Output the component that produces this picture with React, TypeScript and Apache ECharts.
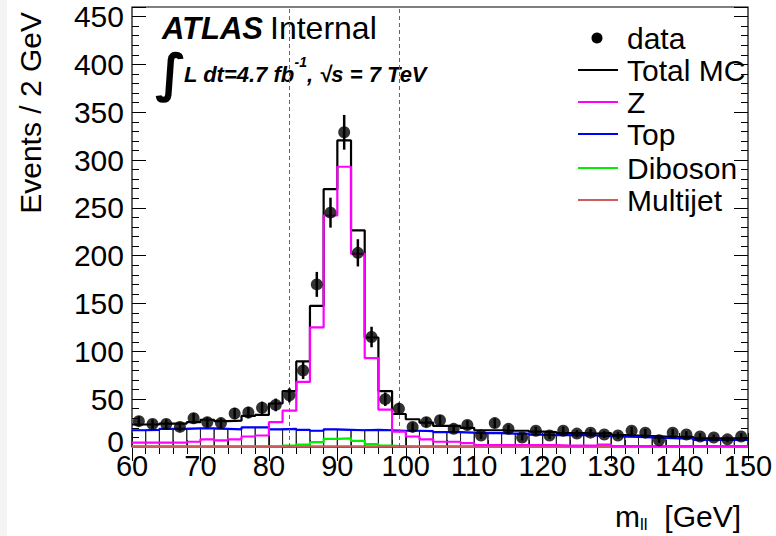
import React, { useEffect, useRef } from "react";
import * as echarts from "echarts";

// Bin centres of the 2 GeV bins, 60-150 GeV
const binCenters = [
  61, 63, 65, 67, 69, 71, 73, 75, 77, 79, 81, 83, 85, 87, 89, 91, 93, 95, 97, 99,
  101, 103, 105, 107, 109, 111, 113, 115, 117, 119, 121, 123, 125, 127, 129, 131,
  133, 135, 137, 139, 141, 143, 145, 147, 149,
];
const binHalfWidth = 1;

const dataCounts = [
  27, 24, 24, 21, 30, 26, 25, 35, 36, 41, 44, 54, 80, 170, 245, 329, 203, 115, 50, 40,
  21, 26, 28, 19, 23, 12, 25, 19, 10, 17, 12, 17, 14, 15, 13, 12, 17, 15, 7, 15,
  13, 11, 10, 8, 11,
];

const totalMC = [
  23.5, 23.5, 24.5, 24.5, 26, 28.5, 27, 27.5, 32.5, 33.5, 45.5, 58.5, 89.5, 147.5, 269.5,
  320.5, 226.5, 114.5, 58.5, 34.5, 29, 25.5, 22, 22, 20, 17.5, 17.5, 17, 17, 16, 15.5,
  14.5, 14.5, 14, 14.5, 12.5, 12, 11.5, 11, 10.5, 10.5, 9, 9, 9, 9,
];

const zMC = [
  4.5, 4.5, 4.5, 4.5, 5.5, 8, 7, 8, 11, 12, 26, 38, 68, 125, 242, 293, 202, 93, 39, 16,
  11, 8, 5.5, 5.5, 4, 2, 2, 2, 2, 2, 2, 1.5, 1.5, 1.5, 2.5, 1, 1, 1, 1, 1, 1, 1, 1, 1, 1,
];

const topMC = [
  17.5, 18, 19, 19, 19.5, 19.5, 19, 18.5, 20.5, 20.5, 18.5, 19, 18, 17, 18.5, 18, 17.5,
  18, 17.5, 17, 17, 16.5, 15.5, 15.5, 15, 14.5, 14.5, 14, 14, 13, 12.5, 12.5, 12.5, 12,
  11.5, 11, 10.5, 10, 9.5, 9, 9, 7.5, 7.5, 7.5, 7.5,
];

const dibosonMC = [
  0.3, 0.3, 0.3, 0.3, 0.3, 0.3, 0.3, 0.3, 0.3, 0.3, 0.6, 1.5, 2.5, 5, 8.5, 9, 6.5, 3, 1.5,
  0.8, 0.3, 0.3, 0.3, 0.3, 0.3, 0.3, 0.3, 0.3, 0.3, 0.3, 0.3, 0.3, 0.3, 0.3, 0.3, 0.3,
  0.3, 0.3, 0.3, 0.3, 0.3, 0.3, 0.3, 0.3, 0.3,
];

const multijetMC = [
  0.6, 0.6, 0.6, 0.6, 0.6, 0.6, 0.6, 0.6, 0.6, 0.6, 0.6, 0.6, 0.6, 0.6, 0.6, 0.6, 0.6,
  0.6, 0.6, 0.6, 0.6, 0.6, 0.6, 0.6, 0.6, 0.6, 0.6, 0.6, 0.6, 0.6, 0.6, 0.6, 0.6, 0.6,
  0.6, 0.6, 0.6, 0.6, 0.6, 0.6, 0.6, 0.6, 0.6, 0.6, 0.6,
];

const massWindow = [83, 99];
const legendLabels = ["data", "Total MC", "Z", "Top", "Diboson", "Multijet"];
const legendColors = ["#000000", "#000000", "#ff00ff", "#0000ff", "#00ee00", "#cd5c5c"];

const FONT = "'Liberation Sans', Arial, Helvetica, sans-serif";

function stepData(values: number[]) {
  const pts: number[][] = binCenters.map((c, i) => [c - binHalfWidth, values[i]]);
  pts.push([binCenters[binCenters.length - 1] + binHalfWidth, values[values.length - 1]]);
  return pts;
}

function stepSeries(name: string, values: number[], color: string, z: number) {
  return {
    name,
    type: "line",
    step: "end",
    data: stepData(values),
    showSymbol: false,
    symbol: "none",
    lineStyle: { color, width: 2.2 },
    z,
    silent: true,
  };
}

export default function App() {
  const ref = useRef<HTMLDivElement>(null);

  useEffect(() => {
    if (!ref.current) return;
    const chart = echarts.init(ref.current, undefined, { renderer: "svg" });

    const tickCommon = {
      axisLine: { show: false },
      splitLine: { show: false },
    };

    const legendGraphics: any[] = [];
    const legendY0 = 38;
    const legendDy = 32;
    legendLabels.forEach((lab, i) => {
      const y = legendY0 + i * legendDy + (i >= 4 ? 2 : 0);
      if (i === 0) {
        legendGraphics.push({
          type: "circle",
          shape: { cx: 597, cy: y, r: 5.5 },
          style: { fill: "#000" },
        });
      } else {
        legendGraphics.push({
          type: "line",
          shape: { x1: 578, y1: y, x2: 618, y2: y },
          style: { stroke: legendColors[i], lineWidth: 2 },
        });
      }
      legendGraphics.push({
        type: "text",
        x: 627,
        y,
        style: {
          text: lab,
          font: `30px ${FONT}`,
          fill: "#000",
          align: "left",
          verticalAlign: "middle",
        },
      });
    });

    const option: any = {
      animation: false,
      backgroundColor: "#ffffff",
      grid: {
        left: 132,
        right: 28,
        top: 7,
        bottom: 89,
        show: true,
        borderColor: "#000",
        borderWidth: 1.2,
        backgroundColor: "#fff",
      },
      xAxis: [
        {
          type: "value",
          min: 60,
          max: 150,
          interval: 10,
          position: "bottom",
          ...tickCommon,
          axisTick: { show: true, inside: true, length: 14, lineStyle: { color: "#000", width: 1 } },
          minorTick: { show: true, splitNumber: 5, length: 7, lineStyle: { color: "#000", width: 1 } },
          axisLabel: {
            show: true,
            fontSize: 29,
            fontFamily: FONT,
            color: "#000",
            margin: 4,
            showMinLabel: true,
            showMaxLabel: true,
          },
        },
        {
          type: "value",
          min: 60,
          max: 150,
          interval: 10,
          position: "top",
          ...tickCommon,
          axisTick: { show: true, inside: true, length: 14, lineStyle: { color: "#000", width: 1 } },
          minorTick: { show: true, splitNumber: 5, length: 7, lineStyle: { color: "#000", width: 1 } },
          axisLabel: { show: false },
        },
      ],
      yAxis: [
        {
          type: "value",
          min: 0,
          max: 460,
          interval: 50,
          position: "left",
          ...tickCommon,
          axisTick: { show: true, inside: true, length: 14, lineStyle: { color: "#000", width: 1 } },
          axisLabel: {
            show: true,
            fontSize: 30,
            fontFamily: FONT,
            color: "#000",
            margin: 8,
            formatter: (v: number) => (v === 0 ? "{z|0}" : v % 50 === 0 ? String(v) : ""),
            rich: {
              z: { fontSize: 30, fontFamily: FONT, color: "#000", padding: [0, 0, 12, 0] },
            },
            showMinLabel: true,
            showMaxLabel: true,
          },
        },
        {
          type: "value",
          min: 0,
          max: 460,
          interval: 10,
          position: "left",
          ...tickCommon,
          axisTick: { show: true, inside: true, length: 7, lineStyle: { color: "#000", width: 1 } },
          axisLabel: { show: false },
        },
        {
          type: "value",
          min: 0,
          max: 460,
          interval: 50,
          position: "right",
          ...tickCommon,
          axisTick: { show: true, inside: true, length: 14, lineStyle: { color: "#000", width: 1 } },
          axisLabel: { show: false },
        },
        {
          type: "value",
          min: 0,
          max: 460,
          interval: 10,
          position: "right",
          ...tickCommon,
          axisTick: { show: true, inside: true, length: 7, lineStyle: { color: "#000", width: 1 } },
          axisLabel: { show: false },
        },
      ],
      series: [
        {
          name: "Top bins",
          type: "custom",
          silent: true,
          z: 1,
          data: binCenters.map((c, i) => [c - binHalfWidth, c + binHalfWidth, topMC[i]]),
          encode: { x: [0, 1], y: 2 },
          renderItem: (params: any, api: any) => {
            const p1 = api.coord([api.value(0), api.value(2)]);
            const p2 = api.coord([api.value(1), 0]);
            return {
              type: "rect",
              shape: { x: p1[0], y: p1[1], width: p2[0] - p1[0], height: p2[1] - p1[1] },
              style: { fill: "none", stroke: "#222", lineWidth: 1 },
            };
          },
          markLine: {
            silent: true,
            symbol: "none",
            label: { show: false },
            lineStyle: { color: "#666", type: [4, 3], width: 1 },
            data: massWindow.map((m) => ({ xAxis: m })),
          },
        },
        stepSeries("Total MC", totalMC, "#000000", 2),
        stepSeries("Diboson", dibosonMC, legendColors[4], 3),
        stepSeries("Multijet", multijetMC, legendColors[5], 3),
        stepSeries("Top", topMC, legendColors[3], 4),
        stepSeries("Z", zMC, legendColors[2], 5),
        {
          name: "data errors",
          type: "custom",
          silent: true,
          z: 6,
          data: binCenters.map((c, i) => [
            c,
            dataCounts[i] - Math.sqrt(dataCounts[i]),
            dataCounts[i] + Math.sqrt(dataCounts[i]),
          ]),
          encode: { x: 0, y: [1, 2] },
          renderItem: (params: any, api: any) => {
            const lo = api.coord([api.value(0), api.value(1)]);
            const hi = api.coord([api.value(0), api.value(2)]);
            return {
              type: "line",
              shape: { x1: lo[0], y1: lo[1], x2: hi[0], y2: hi[1] },
              style: { stroke: "#000", lineWidth: 2.5 },
            };
          },
        },
        {
          name: "data",
          type: "scatter",
          z: 7,
          symbol: "circle",
          symbolSize: 12,
          itemStyle: { color: "#000" },
          data: binCenters.map((c, i) => [c, dataCounts[i]]),
          silent: true,
        },
      ],
      graphic: [
        { type: "rect", shape: { x: 0, y: 0, width: 7, height: 536 }, style: { fill: "#f4f4f4" }, z: 100 },
        {
          type: "text",
          x: 30,
          y: 12,
          rotation: Math.PI / 2,
          style: {
            text: "Events / 2 GeV",
            font: `30px ${FONT}`,
            fill: "#000",
            align: "right",
            verticalAlign: "middle",
          },
        },
        {
          type: "text",
          x: 741,
          y: 516,
          style: {
            text: "{m|m}{s|ll}{g|  [GeV]}",
            align: "right",
            verticalAlign: "middle",
            rich: {
              m: { font: `30px ${FONT}`, fill: "#000", lineHeight: 34, verticalAlign: "middle" },
              s: { font: `17px ${FONT}`, fill: "#000", lineHeight: 34, verticalAlign: "bottom" },
              g: { font: `30px ${FONT}`, fill: "#000", lineHeight: 34, verticalAlign: "middle" },
            },
          },
        },
        {
          type: "text",
          x: 162,
          y: 28,
          style: {
            text: "ATLAS",
            font: `italic bold 31px ${FONT}`,
            fill: "#000",
            align: "left",
            verticalAlign: "middle",
          },
        },
        {
          type: "text",
          x: 270,
          y: 28,
          style: {
            text: "Internal",
            font: `32px ${FONT}`,
            fill: "#000",
            align: "left",
            verticalAlign: "middle",
          },
        },
        {
          type: "text",
          x: 155,
          y: 73,
          style: {
            text: "∫",
            font: `bold 52px 'DejaVu Sans', ${FONT}`,
            fill: "#000",
            align: "left",
            verticalAlign: "middle",
          },
        },
        {
          type: "text",
          x: 184,
          y: 70,
          style: {
            text: "{t|L dt=4.7 fb}{sup|-1}{t|, √s = 7 TeV}",
            align: "left",
            verticalAlign: "middle",
            rich: {
              t: { font: `italic bold 22px ${FONT}`, fill: "#000", lineHeight: 30, verticalAlign: "bottom" },
              sup: { font: `italic bold 14px ${FONT}`, fill: "#000", lineHeight: 30, verticalAlign: "top" },
            },
          },
        },
        ...legendGraphics,
      ],
    };

    chart.setOption(option);
    return () => chart.dispose();
  }, []);

  return (
    <div
      ref={ref}
      style={{ position: "fixed", left: 0, top: 0, width: 776, height: 536, background: "#fff" }}
    />
  );
}
